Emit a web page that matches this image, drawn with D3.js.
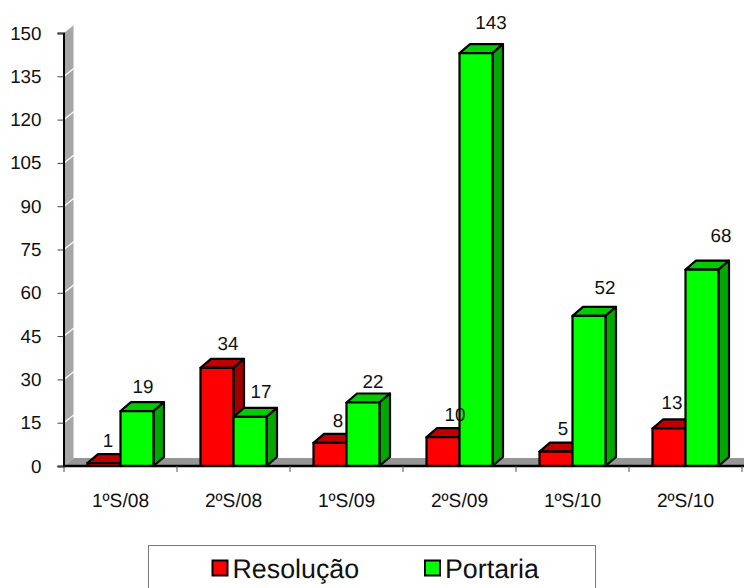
<!DOCTYPE html>
<html><head><meta charset="utf-8">
<script src="https://cdn.jsdelivr.net/npm/d3@7"></script>
<style>html,body{margin:0;padding:0;background:#fff}svg{display:block}text{font-family:"Liberation Sans",Arial,sans-serif;fill:#111;text-rendering:geometricPrecision}</style>
</head><body><svg id="c" width="744" height="588"></svg>
<script>
const categories = ["1ºS/08","2ºS/08","1ºS/09","2ºS/09","1ºS/10","2ºS/10"];
const resolucao = [1,34,8,10,5,13];
const portaria = [19,17,22,143,52,68];
const seriesNames = ["Resolução","Portaria"];
const yTicks = [0,15,30,45,60,75,90,105,120,135,150];

const svg = d3.select("#c");
const x = d3.scaleBand().domain(categories).range([64,742]).paddingInner(0).paddingOuter(0);
const y = d3.scaleLinear().domain([0,150]).range([466,33]);
const s = d3.scaleBand().domain(seriesNames).range([0,66]);
const dx = 10, dy = 8, bdx = 10.5, bdy = 9;
const barStart = c => x(c) + (x.bandwidth()-66)/2;

// wall and floor
svg.append("path").attr("d",`M64,${y(0)}L74,${y(0)-dy}L74,${y(150)-dy}L64,${y(150)}Z`).attr("fill","#a6a6a6");
svg.append("path").attr("d",`M64,${y(0)}L74,${y(0)-dy}L744,${y(0)-dy}L744,${y(0)}Z`).attr("fill","#969696");
svg.append("g").selectAll("line").data(yTicks.filter(t=>t>0&&t<150)).join("line")
  .attr("x1",64).attr("x2",74).attr("y1",d=>y(d)).attr("y2",d=>y(d)-dy)
  .attr("stroke","#fff").attr("stroke-width",1.3);
svg.append("line").attr("x1",74).attr("x2",74).attr("y1",y(0)-dy).attr("y2",y(150)-dy).attr("stroke","#fff").attr("stroke-width",1);

// bars
const palette = {
  "Resolução":{front:"#ff0000",top:"#bf0000",side:"#a00000"},
  "Portaria":{front:"#00ff00",top:"#00cc00",side:"#00a800"}
};
const rows = [];
categories.forEach((c,i)=>{
  rows.push({c,name:"Resolução",v:resolucao[i]});
  rows.push({c,name:"Portaria",v:portaria[i]});
});
const g = svg.append("g").attr("stroke","#000").attr("stroke-width",2.2).attr("stroke-linejoin","round");
rows.forEach(r=>{
  const l = barStart(r.c)+s(r.name), w = s.bandwidth(), t = y(r.v), b = y(0), col = palette[r.name];
  g.append("path").attr("fill",col.top).attr("d",`M${l},${t}L${l+bdx},${t-bdy}L${l+w+bdx},${t-bdy}L${l+w},${t}Z`);
  g.append("path").attr("fill",col.side).attr("d",`M${l+w},${t}L${l+w+bdx},${t-bdy}L${l+w+bdx},${b-bdy}L${l+w},${b}Z`);
  g.append("rect").attr("fill",col.front).attr("x",l).attr("y",t).attr("width",w).attr("height",b-t);
});

// axes
const yAxis = d3.axisLeft(y).tickValues(yTicks).tickSize(6).tickPadding(16);
const ya = svg.append("g").attr("transform","translate(63.5,0)").call(yAxis);
ya.select(".domain").attr("stroke","#000").attr("stroke-width",2);
ya.selectAll("line").attr("stroke","#444");
ya.selectAll("text").style("font-size","18.8px").attr("fill","#111");

svg.append("line").attr("x1",63).attr("x2",744).attr("y1",y(0)).attr("y2",y(0)).attr("stroke","#000").attr("stroke-width",2.5);
svg.append("g").selectAll("line").data(d3.range(0,7)).join("line")
  .attr("x1",d=>64+d*x.bandwidth()).attr("x2",d=>64+d*x.bandwidth())
  .attr("y1",466).attr("y2",472).attr("stroke","#555");
svg.append("g").selectAll("text").data(categories).join("text")
  .attr("x",d=>x(d)+x.bandwidth()/2).attr("y",507).attr("text-anchor","middle")
  .style("font-size","19.2px").text(d=>d);

// value labels (hand-placed in the original chart)
const labelNudgeX = [4,11,8,12,7,3, 6,11,10,15,16,19];
const labelNudgeY = [-16,-18,-16,-16,-17,-19, -18,-19,-14,-24,-22,-28];
const labelRows = rows.slice().sort((a,b)=>(a.name===b.name?0:(a.name==="Resolução"?-1:1)));
svg.append("g").selectAll("text").data(labelRows).join("text")
  .attr("x",(d,i)=>barStart(d.c)+s(d.name)+s.bandwidth()/2+labelNudgeX[i])
  .attr("y",(d,i)=>y(d.v)+labelNudgeY[i])
  .attr("text-anchor","middle").style("font-size","18.8px").text(d=>d.v);

// legend
svg.append("rect").attr("x",148.5).attr("y",545.5).attr("width",447).attr("height",60).attr("fill","#fff").attr("stroke","#777");
const lg = svg.append("g").selectAll("g").data(seriesNames).join("g")
  .attr("transform",(d,i)=>`translate(${i?425:212.5},560.5)`);
lg.append("rect").attr("width",15).attr("height",15).attr("fill",d=>palette[d].front).attr("stroke","#000").attr("stroke-width",2);
lg.append("text").attr("x",20).attr("y",17.5).style("font-size","26.8px").text(d=>d);
</script></body></html>
